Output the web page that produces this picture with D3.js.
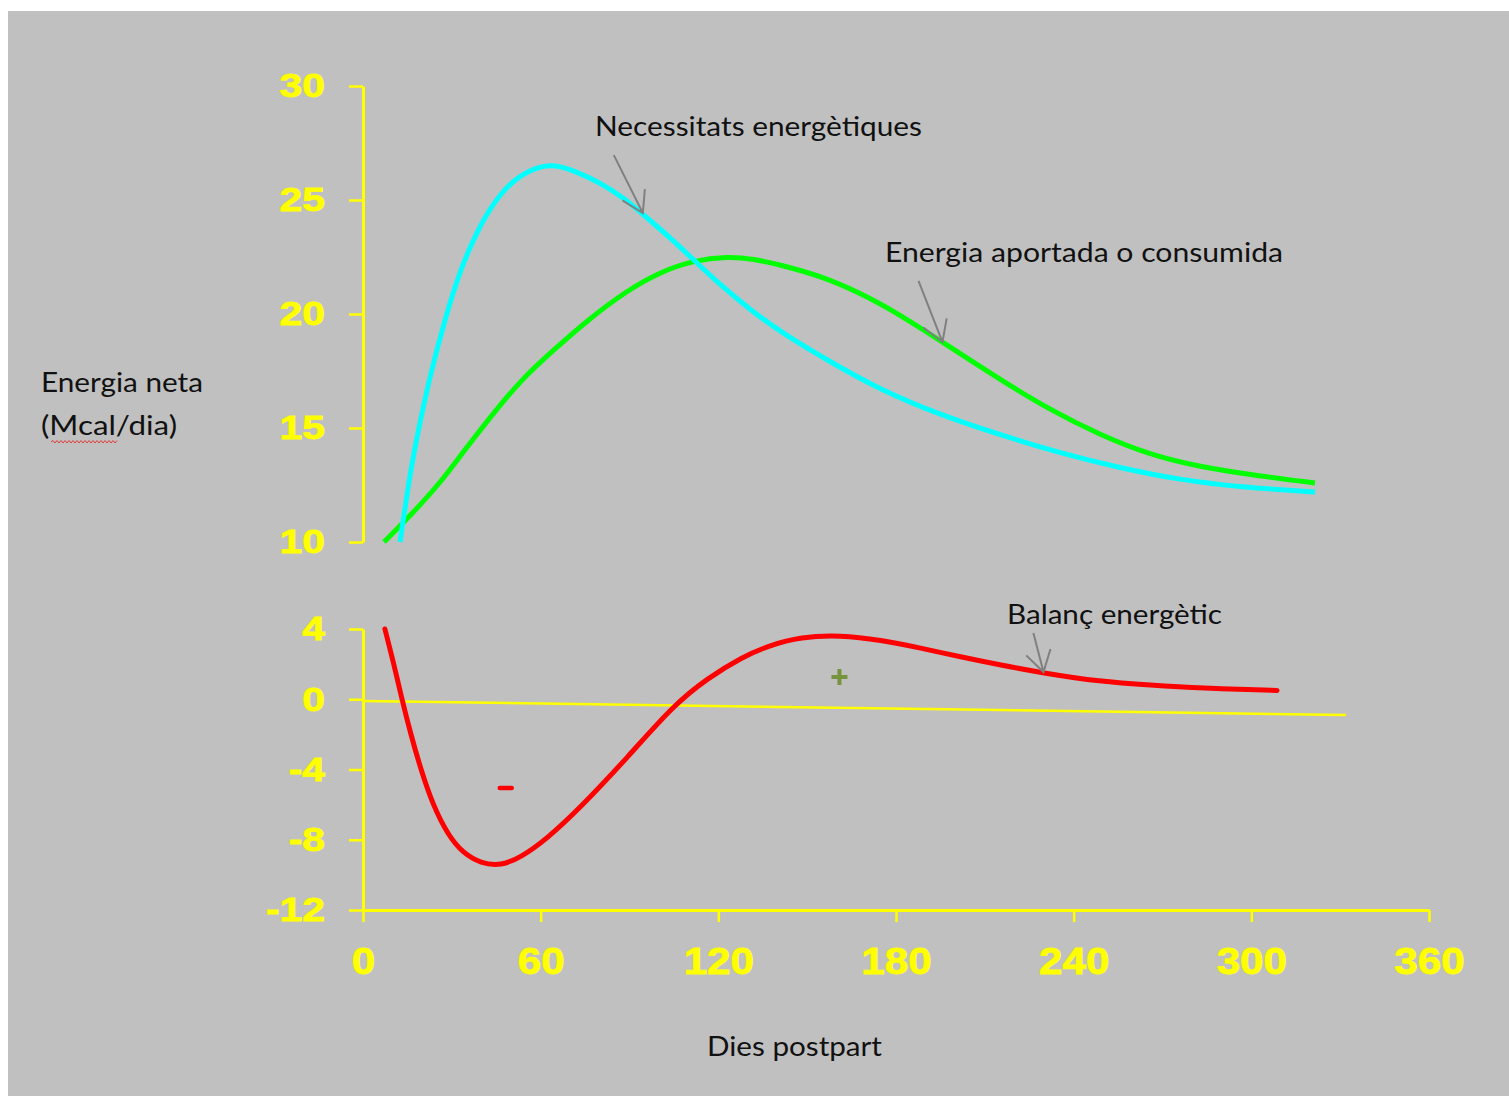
<!DOCTYPE html>
<html>
<head>
<meta charset="utf-8">
<script src="https://cdn.jsdelivr.net/npm/d3@7"></script>
<style>
  body { margin: 0; background: #fff; }
</style>
</head>
<body>
<svg id="chart" width="1509" height="1096"></svg>
<script>
// Energy needs (Mcal/day) by days postpartum
const needs = [[12.5, 10], [16.2, 13.29], [19.6, 15.48], [22.9, 17.41], [27.3, 19.61], [33.1, 22.06],
    [38.8, 23.68], [43.2, 24.69], [48.9, 25.66], [55.7, 26.3], [63.4, 26.6], [71.2, 26.3],
    [80.3, 25.75], [88.1, 25.09], [94.8, 24.34], [103.9, 23.33], [111.7, 22.37], [121.8, 21.14],
    [130.9, 20.18], [141, 19.21], [157.9, 17.89], [174.8, 16.67], [195, 15.57], [215.3, 14.69],
    [235.5, 13.9], [255.7, 13.25], [276, 12.72], [296.2, 12.41], [321.5, 12.19]];

// Energy intake
const intake = [[7.1, 10], [16.2, 11.18], [26.3, 12.63], [33.1, 13.82], [42.2, 15.35], [53.3, 17.11],
    [64.4, 18.42], [75.9, 19.74], [89.4, 21.05], [100.5, 21.85], [111.7, 22.35], [123.1, 22.52],
    [131.9, 22.42], [141, 22.15], [154.5, 21.67], [168, 20.92], [181.5, 19.96], [195.7, 18.77],
    [215.3, 17.11], [232.1, 15.79], [249, 14.69], [265.9, 13.82], [282.7, 13.29], [303, 12.89],
    [321.5, 12.59]];

// Energy balance
const balance = [[7.4, 4], [10.5, 1.95], [12.8, 0.24], [16.2, -2.04], [19.6, -4.03], [23.6, -6.02],
    [28.7, -7.73], [33.7, -8.75], [39.8, -9.35], [46.6, -9.48], [53.3, -9.0], [61.7, -8.01],
    [73.6, -6.14], [89.4, -3.3], [104.9, -0.33], [116.4, 1.2], [128, 2.4], [137, 3.05],
    [147.8, 3.55], [161.3, 3.65], [174.8, 3.37], [188.3, 2.92], [201.8, 2.41], [215.3, 1.95],
    [229.8, 1.49], [249, 1.0], [265.9, 0.8], [282.7, 0.63], [308.7, 0.5]];

// the hand drawn "zero" line is slightly tilted
const zeroLine = [[0, -0.1], [332, -0.9]];

const xTicks = [0, 60, 120, 180, 240, 300, 360];
const yTopTicks = [10, 15, 20, 25, 30];
const yBotTicks = [-12, -8, -4, 0, 4];

const svg = d3.select("#chart");

svg.append("rect")
    .attr("x", 8).attr("y", 11)
    .attr("width", 1501).attr("height", 1085)
    .attr("fill", "#c0c0c0");

const x = d3.scaleLinear().domain([0, 360]).range([363, 1429]);
const yTop = d3.scaleLinear().domain([10, 30]).range([542, 86]);
const yBot = d3.scaleLinear().domain([-12, 4]).range([910, 629]);

const yellow = "#ffff00";
const tickFont = "'Liberation Sans', Arial, sans-serif";
const plainFormat = d => String(d); // keep ascii hyphen for negatives

// stretch labels wider, the original font is a wide heavy face
function styleAxis(g, size, stretch) {
    g.select(".domain").attr("stroke", yellow).attr("stroke-width", 3);
    g.selectAll(".tick line").attr("stroke", yellow).attr("stroke-width", 2.5);
    g.selectAll(".tick text")
        .attr("fill", yellow)
        .attr("stroke", yellow)
        .attr("stroke-width", 0.8)
        .attr("font-family", tickFont)
        .attr("font-weight", "bold")
        .attr("font-size", size)
        .each(function () {
            const w = this.getComputedTextLength();
            d3.select(this).attr("textLength", w * stretch).attr("lengthAdjust", "spacingAndGlyphs");
        });
}

// upper panel axis
svg.append("g")
    .attr("transform", `translate(${x(0)},0)`)
    .call(d3.axisLeft(yTop).tickValues(yTopTicks).tickFormat(plainFormat)
        .tickSize(14).tickSizeOuter(0).tickPadding(24))
    .call(g => styleAxis(g, 34, 1.2));

// lower panel axes
svg.append("g")
    .attr("transform", `translate(${x(0)},0)`)
    .call(d3.axisLeft(yBot).tickValues(yBotTicks).tickFormat(plainFormat)
        .tickSize(14).tickSizeOuter(0).tickPadding(24))
    .call(g => styleAxis(g, 34, 1.2));

svg.append("g")
    .attr("transform", `translate(0,${yBot(-12)})`)
    .call(d3.axisBottom(x).tickValues(xTicks).tickFormat(plainFormat).tickSize(12).tickSizeOuter(0))
    .call(g => {
        styleAxis(g, 36, 1.17);
        g.selectAll(".tick text").attr("dy", 0).attr("y", 64);
    });

// zero line
svg.append("path")
    .datum(zeroLine)
    .attr("fill", "none")
    .attr("stroke", yellow)
    .attr("stroke-width", 2.5)
    .attr("d", d3.line().x(d => x(d[0])).y(d => yBot(d[1])));

const lineTop = d3.line().x(d => x(d[0])).y(d => yTop(d[1])).curve(d3.curveBasis);
const lineBot = d3.line().x(d => x(d[0])).y(d => yBot(d[1])).curve(d3.curveBasis);

svg.append("path").datum(intake)
    .attr("fill", "none").attr("stroke", "#00ff00").attr("stroke-width", 5)
    .attr("d", lineTop);

svg.append("path").datum(needs)
    .attr("fill", "none").attr("stroke", "#00ffff").attr("stroke-width", 5)
    .attr("d", lineTop);

svg.append("path").datum(balance)
    .attr("fill", "none").attr("stroke", "#ff0000").attr("stroke-width", 5)
    .attr("stroke-linecap", "round")
    .attr("d", lineBot);

// sign markers
const minusX = x(48.2), minusY = yBot(-5.05);
svg.append("line")
    .attr("x1", minusX - 6).attr("x2", minusX + 6)
    .attr("y1", minusY).attr("y2", minusY)
    .attr("stroke", "#ff0000").attr("stroke-width", 4.5).attr("stroke-linecap", "round");

const plusX = x(160.9), plusY = yBot(1.27);
svg.append("path")
    .attr("d", `M${plusX - 8},${plusY}H${plusX + 8}M${plusX},${plusY - 8}V${plusY + 8}`)
    .attr("stroke", "#77933c").attr("stroke-width", 4);

// annotation arrows
function arrow(x0, y0, x1, y1) {
    const a = Math.atan2(y0 - y1, x0 - x1), L = 24, h = 0.55;
    return `M${x0},${y0}L${x1},${y1}` +
        `M${x1 + L * Math.cos(a + h)},${y1 + L * Math.sin(a + h)}L${x1},${y1}` +
        `L${x1 + L * Math.cos(a - h)},${y1 + L * Math.sin(a - h)}`;
}

const arrows = [
    arrow(x(84.7), yTop(26.97), x(94.5), yTop(24.43)),
    arrow(x(187.6), yTop(21.45), x(195.7), yTop(18.77)),
    arrow(x(226.4), yBot(3.77), x(229.8), yBot(1.55))
];
svg.selectAll(".arrow").data(arrows).enter()
    .append("path")
    .attr("class", "arrow")
    .attr("d", d => d)
    .attr("fill", "none")
    .attr("stroke", "#808080")
    .attr("stroke-width", 2);

// labels
const labelFont = "Lato, 'Open Sans', sans-serif";
function label(txt, px, py, width) {
    svg.append("text")
        .attr("x", px).attr("y", py)
        .attr("font-family", labelFont)
        .attr("font-size", 27)
        .attr("fill", "#111")
        .attr("textLength", width)
        .attr("lengthAdjust", "spacingAndGlyphs")
        .text(txt);
}

label("Necessitats energètiques", 595, 136, 327);
label("Energia aportada o consumida", 885, 262, 398);
label("Balanç energètic", 1007, 624, 215);
label("Energia neta", 41, 392, 162);
label("(Mcal/dia)", 41, 435, 136);
label("Dies postpart", 707, 1056, 175);

// spell-check squiggle under "Mcal"
let sq = "M51,442";
for (let i = 53; i <= 117; i += 2) sq += `L${i},${i % 4 === 1 ? 440.5 : 443}`;
svg.append("path")
    .attr("d", sq)
    .attr("fill", "none")
    .attr("stroke", "#e23a3a")
    .attr("stroke-width", 1);
</script>
</body>
</html>
